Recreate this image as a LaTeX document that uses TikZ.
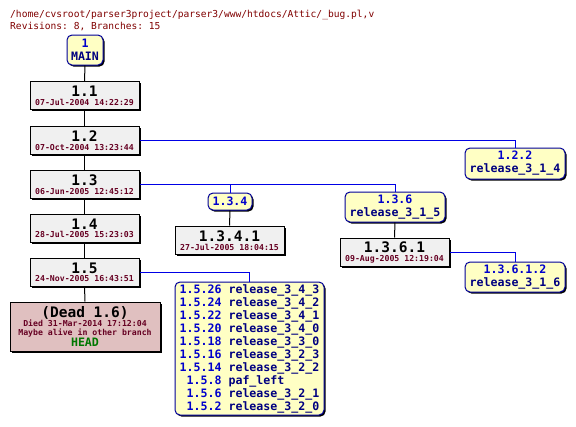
\documentclass[tikz,border=0pt]{standalone}
\usepackage{fontspec}
\setmonofont{DejaVu Sans Mono}
\usetikzlibrary{shadows}
\definecolor{titlered}{HTML}{800000}
\definecolor{datered}{HTML}{660022}
\definecolor{revblue}{HTML}{0000CC}
\definecolor{tagnavy}{HTML}{000080}
\definecolor{linkblue}{HTML}{0000E6}
\definecolor{tagborder}{HTML}{000099}
\definecolor{tagfill}{HTML}{FFFFC4}
\definecolor{revfill}{HTML}{F0F0F0}
\definecolor{deadfill}{HTML}{E0C0C0}
\definecolor{headgreen}{HTML}{007700}
\newcommand\revfont{\ttfamily\bfseries\fontsize{14.5}{15}\selectfont}
\newcommand\datefont{\ttfamily\bfseries\fontsize{8.2}{8}\selectfont\color{datered}}
\newcommand\tagfont{\ttfamily\bfseries\fontsize{11.6}{13}\selectfont}
\newcommand\revtext[3]{\vbox{\hsize=#1\lineskiplimit=-\maxdimen\kern1pt
  \baselineskip=8.5pt
  \centerline{\revfont #2}\centerline{\datefont #3}}}
\newcommand\tagtext[3]{\vbox{\hsize=#1\lineskiplimit=-\maxdimen
  \baselineskip=13pt
  \centerline{\tagfont\color{revblue}#2}\centerline{\tagfont\color{tagnavy}#3}}}
\newcommand\tagone[2]{\vbox{\hsize=#1\lineskiplimit=-\maxdimen
  \centerline{\tagfont\color{revblue}#2}}}
\newcommand\deadtext{\vbox{\hsize=150pt\lineskiplimit=-\maxdimen
  \centerline{\revfont (Dead 1.6)}
  \baselineskip=9.5pt\centerline{\datefont Died 31-Mar-2014 17:12:04}
  \baselineskip=8.5pt\centerline{\datefont Maybe alive in other branch}
  \baselineskip=11.5pt\centerline{\tagfont\color{headgreen}HEAD}}}
\newcommand\taglist{\vbox{\lineskiplimit=-\maxdimen\baselineskip=12.9pt\tagfont
  \halign{\hfil{\color{revblue}##}&\ {\color{tagnavy}##}\hfil\cr
  1.5.26&release\_3\_4\_3\cr
  1.5.24&release\_3\_4\_2\cr
  1.5.22&release\_3\_4\_1\cr
  1.5.20&release\_3\_4\_0\cr
  1.5.18&release\_3\_3\_0\cr
  1.5.16&release\_3\_2\_3\cr
  1.5.14&release\_3\_2\_2\cr
  1.5.8&paf\_left\cr
  1.5.6&release\_3\_2\_1\cr
  1.5.2&release\_3\_2\_0\cr}}}
\tikzset{
  shadowed/.style={drop shadow={shadow xshift=1.5pt, shadow yshift=-1.5pt, opacity=1, fill=black}},
  revbox/.style={draw=black, fill=revfill, line width=1pt, inner sep=0pt,
    minimum width=109pt, minimum height=28pt, shadowed},
  tagbox/.style={draw=tagborder, fill=tagfill, line width=1pt, inner sep=0pt,
    rounded corners=5pt, minimum width=100pt, minimum height=30pt, shadowed},
  deadbox/.style={draw=black, fill=deadfill, line width=1pt, inner sep=0pt,
    minimum width=150pt, minimum height=49pt, shadowed},
  trunk/.style={draw=black, line width=1pt},
  branch/.style={draw=linkblue, line width=1pt},
  titletext/.style={anchor=base west, inner sep=0pt, text=titlered,
    font=\ttfamily\fontsize{9.6}{10}\selectfont}
}
\begin{document}
\begin{tikzpicture}[x=1pt,y=-1pt]
\fill[white] (0,0) rectangle (576,426);
\useasboundingbox (0,0) rectangle (576,426);
\node[titletext] (title) at (10,17) {/home/cvsroot/parser3project/parser3/www/htdocs/Attic/\_bug.pl,v};
\node[titletext] (stats) at (10,29) {Revisions: 8, Branches: 15};
% coordinates for nodes
\path
  (85,50) coordinate (pmain)
  (84.5,95.5) coordinate (p11)
  (84.5,140) coordinate (p12)
  (84.5,184) coordinate (p13)
  (84.5,228) coordinate (p14)
  (84.5,272) coordinate (p15)
  (85,326.5) coordinate (pdead)
  (515,163.5) coordinate (p122)
  (230,201.5) coordinate (p134)
  (229.5,240) coordinate (p1341)
  (395,207) coordinate (p136)
  (394.5,252) coordinate (p1361)
  (515,277) coordinate (p13612)
  (249.5,348.5) coordinate (p15t);
% boxes
\node[tagbox, minimum width=36pt] (main) at (pmain) {\tagtext{36pt}{1}{MAIN}};
\node[revbox] (r11) at (p11) {\revtext{109pt}{1.1}{07-Jul-2004 14:22:29}};
\node[revbox] (r12) at (p12) {\revtext{109pt}{1.2}{07-Oct-2004 13:23:44}};
\node[revbox] (r13) at (p13) {\revtext{109pt}{1.3}{06-Jun-2005 12:45:12}};
\node[revbox] (r14) at (p14) {\revtext{109pt}{1.4}{28-Jul-2005 15:23:03}};
\node[revbox] (r15) at (p15) {\revtext{109pt}{1.5}{24-Nov-2005 16:43:51}};
\node[deadbox] (dead) at (pdead) {\deadtext};
\node[tagbox, minimum height=31pt] (b122) at (p122) {\tagtext{100pt}{1.2.2}{release\_3\_1\_4}};
\node[tagbox, minimum width=44pt, minimum height=17pt] (b134) at (p134) {\tagone{44pt}{1.3.4}};
\node[revbox] (r1341) at (p1341) {\revtext{109pt}{1.3.4.1}{27-Jul-2005 18:04:15}};
\node[tagbox] (b136) at (p136) {\tagtext{100pt}{1.3.6}{release\_3\_1\_5}};
\node[revbox] (r1361) at (p1361) {\revtext{109pt}{1.3.6.1}{09-Aug-2005 12:19:04}};
\node[tagbox] (b13612) at (p13612) {\tagtext{100pt}{1.3.6.1.2}{release\_3\_1\_6}};
\node[tagbox, minimum width=149pt, minimum height=133pt] (b15) at (p15t) {\taglist};
% connectors
\path[trunk] (main.south) -- (r11.north);
\path[trunk] (r11.south) -- (r12.north);
\path[trunk] (r12.south) -- (r13.north);
\path[trunk] (r13.south) -- (r14.north);
\path[trunk] (r14.south) -- (r15.north);
\path[trunk] (r15.south) -- (dead.north);
\path[trunk] (b134.south) -- (r1341.north);
\path[trunk] (b136.south) -- (r1361.north);
\path[branch] (r12.east) -| (b122.north);
\path[branch] (r13.east) -| (b136.north);
\path[branch] (b134.north) -- (b134.north |- r13.east);
\path[branch] (r1361.east) -| (b13612.north);
\path[branch] (r15.east) -| (b15.north);
\end{tikzpicture}
\end{document}
